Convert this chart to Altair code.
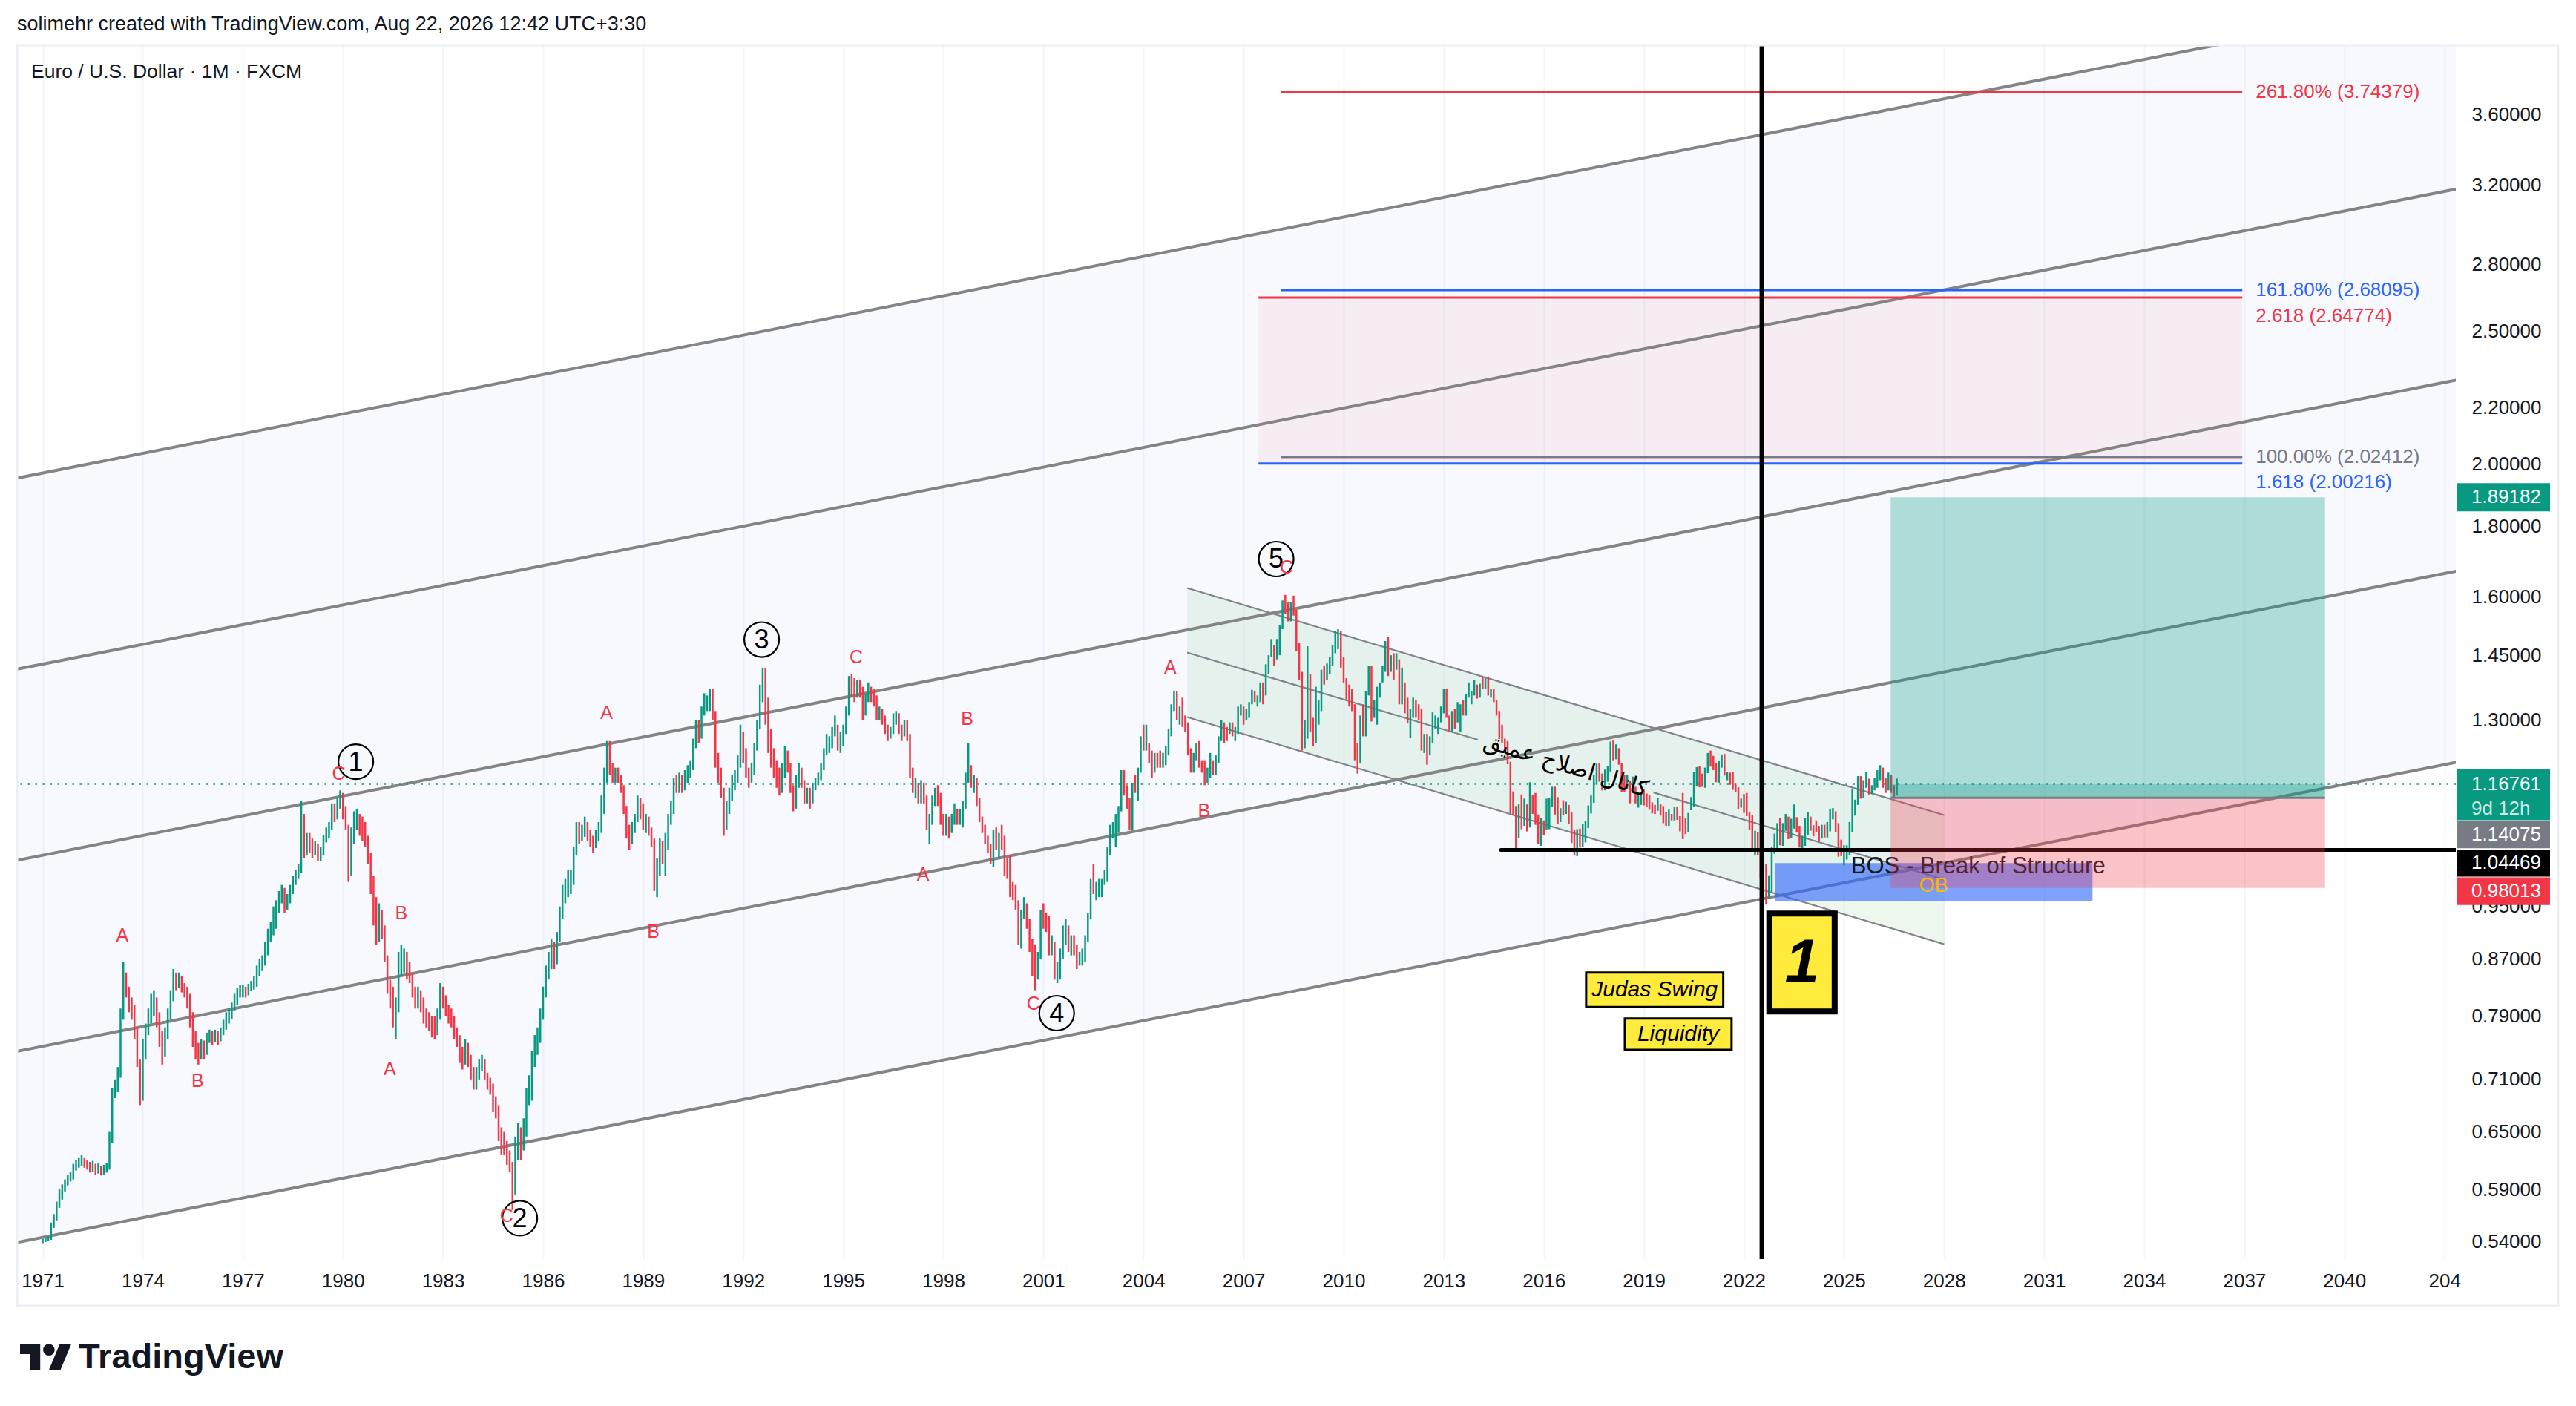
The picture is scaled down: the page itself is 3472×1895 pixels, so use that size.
import altair as alt
import pandas as pd

# ---------------- monthly EUR/USD bars (Jan 1971 .. Aug 2026) ----------------
closes = [
    0.541, 0.542, 0.543, 0.555, 0.562, 0.575, 0.583, 0.590, 0.596, 0.600, 0.603, 0.612,  # 1971
    0.615, 0.618, 0.620, 0.617, 0.615, 0.612, 0.614, 0.610, 0.612, 0.609, 0.611, 0.613,  # 1972
    0.640, 0.695, 0.700, 0.715, 0.790, 0.840, 0.825, 0.810, 0.800, 0.770, 0.730, 0.700,  # 1973
    0.745, 0.770, 0.790, 0.800, 0.810, 0.790, 0.760, 0.745, 0.765, 0.790, 0.815, 0.840,  # 1974
    0.835, 0.840, 0.830, 0.825, 0.815, 0.790, 0.760, 0.745, 0.740, 0.750, 0.745, 0.760,  # 1975
    0.765, 0.760, 0.765, 0.760, 0.768, 0.775, 0.785, 0.790, 0.800, 0.810, 0.818, 0.825,  # 1976
    0.825, 0.822, 0.828, 0.830, 0.835, 0.850, 0.860, 0.865, 0.880, 0.900, 0.915, 0.935,  # 1977
    0.945, 0.960, 0.975, 0.950, 0.960, 0.975, 0.990, 1.000, 1.010, 1.110, 1.050, 1.060,  # 1978
    1.055, 1.045, 1.050, 1.035, 1.040, 1.065, 1.075, 1.085, 1.120, 1.110, 1.130, 1.145,  # 1979
    1.120, 1.090, 1.010, 1.060, 1.090, 1.105, 1.100, 1.080, 1.070, 1.030, 0.990, 0.960,  # 1980
    0.910, 0.925, 0.915, 0.870, 0.830, 0.820, 0.790, 0.800, 0.860, 0.870, 0.875, 0.860,  # 1981
    0.845, 0.825, 0.810, 0.815, 0.805, 0.790, 0.785, 0.780, 0.775, 0.770, 0.790, 0.820,  # 1982
    0.810, 0.800, 0.790, 0.785, 0.770, 0.760, 0.740, 0.735, 0.745, 0.735, 0.720, 0.705,  # 1983
    0.715, 0.725, 0.730, 0.715, 0.705, 0.700, 0.680, 0.675, 0.650, 0.640, 0.635, 0.625,  # 1984
    0.615, 0.590, 0.630, 0.640, 0.635, 0.650, 0.690, 0.700, 0.730, 0.750, 0.765, 0.790,  # 1985
    0.820, 0.850, 0.860, 0.880, 0.870, 0.900, 0.940, 0.965, 0.975, 0.985, 0.990, 1.040,  # 1986
    1.080, 1.070, 1.075, 1.090, 1.070, 1.060, 1.055, 1.065, 1.080, 1.120, 1.180, 1.230,  # 1987
    1.200, 1.180, 1.190, 1.180, 1.160, 1.120, 1.080, 1.070, 1.080, 1.100, 1.130, 1.120,  # 1988
    1.090, 1.095, 1.080, 1.060, 1.000, 1.010, 1.050, 1.040, 1.060, 1.100, 1.120, 1.170,  # 1989
    1.165, 1.175, 1.165, 1.180, 1.190, 1.200, 1.250, 1.280, 1.270, 1.320, 1.340, 1.340,  # 1990
    1.350, 1.310, 1.220, 1.190, 1.150, 1.100, 1.120, 1.140, 1.170, 1.180, 1.210, 1.270,  # 1991
    1.230, 1.190, 1.180, 1.190, 1.240, 1.290, 1.360, 1.390, 1.330, 1.270, 1.220, 1.210,  # 1992
    1.170, 1.160, 1.190, 1.220, 1.200, 1.160, 1.130, 1.170, 1.190, 1.170, 1.140, 1.150,  # 1993
    1.135, 1.160, 1.170, 1.180, 1.200, 1.230, 1.250, 1.250, 1.270, 1.280, 1.250, 1.260,  # 1994
    1.280, 1.320, 1.380, 1.370, 1.360, 1.380, 1.370, 1.320, 1.350, 1.370, 1.360, 1.350,  # 1995
    1.310, 1.320, 1.300, 1.280, 1.270, 1.275, 1.300, 1.310, 1.280, 1.270, 1.290, 1.270,  # 1996
    1.190, 1.160, 1.160, 1.140, 1.160, 1.140, 1.090, 1.100, 1.140, 1.150, 1.140, 1.100,  # 1997
    1.080, 1.095, 1.080, 1.095, 1.110, 1.100, 1.105, 1.120, 1.180, 1.200, 1.170, 1.175,  # 1998
    1.130, 1.100, 1.080, 1.060, 1.045, 1.035, 1.070, 1.060, 1.070, 1.060, 1.010, 1.005,  # 1999
    0.970, 0.965, 0.955, 0.910, 0.935, 0.955, 0.925, 0.890, 0.885, 0.850, 0.875, 0.940,  # 2000
    0.935, 0.920, 0.880, 0.890, 0.845, 0.850, 0.875, 0.910, 0.910, 0.885, 0.890, 0.885,  # 2001
    0.860, 0.870, 0.870, 0.900, 0.935, 0.990, 0.975, 0.980, 0.985, 0.990, 0.995, 1.050,  # 2002
    1.075, 1.080, 1.090, 1.120, 1.180, 1.150, 1.125, 1.100, 1.165, 1.160, 1.195, 1.260,  # 2003
    1.245, 1.245, 1.230, 1.200, 1.220, 1.215, 1.205, 1.215, 1.240, 1.275, 1.330, 1.360,  # 2004
    1.305, 1.325, 1.295, 1.290, 1.230, 1.210, 1.210, 1.230, 1.205, 1.200, 1.180, 1.185,  # 2005
    1.210, 1.190, 1.215, 1.260, 1.290, 1.280, 1.275, 1.280, 1.270, 1.275, 1.320, 1.320,  # 2006
    1.300, 1.320, 1.335, 1.365, 1.345, 1.350, 1.370, 1.365, 1.425, 1.450, 1.465, 1.460,  # 2007
    1.485, 1.520, 1.580, 1.560, 1.555, 1.575, 1.560, 1.465, 1.410, 1.270, 1.270, 1.400,  # 2008
    1.280, 1.270, 1.325, 1.325, 1.415, 1.405, 1.410, 1.430, 1.465, 1.470, 1.500, 1.430,  # 2009
    1.385, 1.360, 1.350, 1.330, 1.230, 1.225, 1.305, 1.270, 1.365, 1.395, 1.300, 1.340,  # 2010
    1.370, 1.380, 1.420, 1.480, 1.440, 1.450, 1.440, 1.440, 1.340, 1.385, 1.345, 1.295,  # 2011
    1.310, 1.345, 1.335, 1.325, 1.235, 1.265, 1.230, 1.255, 1.285, 1.295, 1.300, 1.320,  # 2012
    1.360, 1.305, 1.280, 1.315, 1.300, 1.300, 1.330, 1.320, 1.355, 1.360, 1.360, 1.375,  # 2013
    1.350, 1.380, 1.375, 1.385, 1.360, 1.370, 1.340, 1.315, 1.265, 1.255, 1.245, 1.210,  # 2014
    1.130, 1.120, 1.075, 1.120, 1.100, 1.115, 1.100, 1.120, 1.115, 1.100, 1.060, 1.085,  # 2015
    1.083, 1.093, 1.138, 1.145, 1.113, 1.110, 1.117, 1.115, 1.124, 1.098, 1.059, 1.052,  # 2016
    1.080, 1.058, 1.065, 1.090, 1.124, 1.142, 1.184, 1.190, 1.181, 1.164, 1.190, 1.200,  # 2017
    1.242, 1.219, 1.232, 1.208, 1.169, 1.168, 1.169, 1.160, 1.161, 1.131, 1.132, 1.146,  # 2018
    1.145, 1.137, 1.122, 1.121, 1.117, 1.137, 1.108, 1.099, 1.090, 1.115, 1.101, 1.121,  # 2019
    1.109, 1.103, 1.102, 1.095, 1.110, 1.124, 1.178, 1.194, 1.172, 1.165, 1.192, 1.222,  # 2020
    1.213, 1.207, 1.173, 1.202, 1.223, 1.186, 1.187, 1.181, 1.158, 1.156, 1.134, 1.137,  # 2021
    1.123, 1.122, 1.107, 1.054, 1.073, 1.048, 1.022, 1.005, 0.980, 0.988, 1.040, 1.070,  # 2022
    1.086, 1.058, 1.084, 1.102, 1.069, 1.091, 1.100, 1.084, 1.057, 1.057, 1.089, 1.104,  # 2023
    1.082, 1.081, 1.079, 1.067, 1.085, 1.071, 1.082, 1.105, 1.113, 1.088, 1.058, 1.035,  # 2024
    1.036, 1.040, 1.082, 1.133, 1.134, 1.179, 1.142, 1.168, 1.173, 1.154, 1.160, 1.175,  # 2025
    1.185, 1.195, 1.170, 1.160, 1.180, 1.155, 1.150, 1.168,                              # 2026
]
highs = [
    0.543, 0.544, 0.545, 0.558, 0.566, 0.578, 0.590, 0.595, 0.600, 0.605, 0.608, 0.616,
    0.620, 0.622, 0.625, 0.622, 0.620, 0.618, 0.619, 0.616, 0.617, 0.614, 0.615, 0.617,
    0.650, 0.700, 0.710, 0.725, 0.800, 0.865, 0.850, 0.830, 0.815, 0.805, 0.775, 0.735,
    0.760, 0.780, 0.800, 0.820, 0.825, 0.815, 0.795, 0.770, 0.775, 0.800, 0.825, 0.855,
    0.850, 0.850, 0.845, 0.835, 0.830, 0.820, 0.795, 0.770, 0.755, 0.760, 0.758, 0.768,
    0.772, 0.770, 0.772, 0.770, 0.775, 0.785, 0.795, 0.800, 0.808, 0.820, 0.828, 0.832,
    0.832, 0.830, 0.834, 0.838, 0.845, 0.860, 0.870, 0.875, 0.895, 0.915, 0.925, 0.950,
    0.960, 0.975, 0.985, 0.980, 0.970, 0.985, 1.000, 1.010, 1.020, 1.135, 1.110, 1.075,
    1.075, 1.065, 1.060, 1.055, 1.050, 1.072, 1.085, 1.095, 1.130, 1.130, 1.140, 1.155,
    1.150, 1.125, 1.090, 1.085, 1.115, 1.120, 1.110, 1.105, 1.095, 1.070, 1.040, 1.000,
    0.965, 0.955, 0.945, 0.920, 0.875, 0.840, 0.830, 0.815, 0.880, 0.890, 0.885, 0.880,
    0.865, 0.850, 0.830, 0.830, 0.825, 0.815, 0.800, 0.795, 0.790, 0.790, 0.800, 0.835,
    0.830, 0.818, 0.805, 0.800, 0.790, 0.775, 0.765, 0.750, 0.760, 0.755, 0.740, 0.725,
    0.725, 0.735, 0.740, 0.735, 0.718, 0.712, 0.705, 0.690, 0.680, 0.655, 0.650, 0.640,
    0.630, 0.618, 0.645, 0.660, 0.655, 0.665, 0.700, 0.715, 0.745, 0.765, 0.775, 0.800,
    0.830, 0.860, 0.880, 0.900, 0.895, 0.910, 0.950, 0.985, 0.995, 1.010, 1.010, 1.050,
    1.095, 1.095, 1.090, 1.105, 1.095, 1.080, 1.070, 1.080, 1.095, 1.145, 1.200, 1.255,
    1.255, 1.210, 1.200, 1.200, 1.185, 1.165, 1.125, 1.090, 1.095, 1.110, 1.145, 1.140,
    1.130, 1.110, 1.105, 1.085, 1.065, 1.030, 1.065, 1.060, 1.075, 1.110, 1.135, 1.180,
    1.185, 1.190, 1.185, 1.195, 1.205, 1.215, 1.260, 1.300, 1.300, 1.330, 1.360, 1.355,
    1.370, 1.370, 1.320, 1.230, 1.200, 1.160, 1.135, 1.160, 1.185, 1.195, 1.225, 1.290,
    1.275, 1.240, 1.200, 1.210, 1.250, 1.300, 1.380, 1.420, 1.420, 1.350, 1.280, 1.240,
    1.215, 1.200, 1.210, 1.245, 1.235, 1.210, 1.165, 1.185, 1.210, 1.200, 1.175, 1.160,
    1.160, 1.170, 1.180, 1.190, 1.210, 1.240, 1.270, 1.265, 1.285, 1.310, 1.290, 1.275,
    1.290, 1.330, 1.400, 1.405, 1.395, 1.390, 1.390, 1.375, 1.360, 1.385, 1.375, 1.370,
    1.355, 1.330, 1.325, 1.310, 1.290, 1.285, 1.315, 1.320, 1.315, 1.290, 1.300, 1.300,
    1.270, 1.200, 1.180, 1.170, 1.175, 1.170, 1.145, 1.110, 1.145, 1.160, 1.165, 1.150,
    1.110, 1.110, 1.105, 1.110, 1.130, 1.120, 1.120, 1.135, 1.190, 1.250, 1.205, 1.185,
    1.180, 1.140, 1.105, 1.090, 1.070, 1.055, 1.080, 1.085, 1.075, 1.090, 1.070, 1.030,
    1.035, 0.990, 0.985, 0.960, 0.945, 0.965, 0.955, 0.930, 0.900, 0.890, 0.880, 0.945,
    0.955, 0.940, 0.935, 0.905, 0.895, 0.865, 0.885, 0.920, 0.930, 0.920, 0.905, 0.905,
    0.890, 0.880, 0.885, 0.905, 0.940, 0.995, 1.020, 0.990, 0.995, 0.995, 1.010, 1.050,
    1.090, 1.095, 1.110, 1.125, 1.195, 1.195, 1.165, 1.140, 1.170, 1.185, 1.200, 1.265,
    1.290, 1.290, 1.250, 1.235, 1.230, 1.230, 1.235, 1.230, 1.245, 1.280, 1.335, 1.366,
    1.365, 1.330, 1.350, 1.310, 1.295, 1.240, 1.230, 1.250, 1.255, 1.215, 1.215, 1.200,
    1.230, 1.215, 1.225, 1.265, 1.300, 1.295, 1.285, 1.295, 1.295, 1.285, 1.330, 1.335,
    1.330, 1.325, 1.340, 1.368, 1.365, 1.355, 1.385, 1.385, 1.428, 1.450, 1.490, 1.475,
    1.490, 1.525, 1.590, 1.605, 1.585, 1.585, 1.603, 1.565, 1.480, 1.410, 1.300, 1.472,
    1.405, 1.305, 1.375, 1.345, 1.415, 1.425, 1.430, 1.445, 1.475, 1.510, 1.515, 1.510,
    1.445, 1.395, 1.380, 1.370, 1.335, 1.250, 1.310, 1.335, 1.365, 1.425, 1.425, 1.345,
    1.375, 1.385, 1.425, 1.485, 1.495, 1.450, 1.455, 1.455, 1.440, 1.420, 1.385, 1.350,
    1.325, 1.350, 1.345, 1.335, 1.325, 1.270, 1.270, 1.265, 1.317, 1.310, 1.305, 1.330,
    1.370, 1.370, 1.310, 1.320, 1.325, 1.340, 1.335, 1.345, 1.358, 1.385, 1.365, 1.390,
    1.380, 1.382, 1.397, 1.395, 1.399, 1.370, 1.370, 1.345, 1.320, 1.290, 1.260, 1.255,
    1.212, 1.153, 1.125, 1.128, 1.147, 1.139, 1.128, 1.171, 1.146, 1.150, 1.109, 1.103,
    1.098, 1.139, 1.140, 1.162, 1.162, 1.142, 1.121, 1.136, 1.133, 1.127, 1.114, 1.080,
    1.082, 1.083, 1.091, 1.097, 1.126, 1.145, 1.185, 1.208, 1.209, 1.188, 1.196, 1.203,
    1.254, 1.256, 1.248, 1.240, 1.210, 1.185, 1.185, 1.173, 1.182, 1.162, 1.150, 1.148,
    1.157, 1.149, 1.145, 1.132, 1.127, 1.141, 1.128, 1.125, 1.114, 1.118, 1.110, 1.124,
    1.124, 1.106, 1.150, 1.102, 1.112, 1.142, 1.191, 1.201, 1.203, 1.188, 1.200, 1.230,
    1.235, 1.224, 1.210, 1.214, 1.227, 1.228, 1.191, 1.190, 1.191, 1.169, 1.161, 1.139,
    1.148, 1.150, 1.114, 1.108, 1.079, 1.077, 1.048, 1.037, 1.020, 1.001, 1.050, 1.074,
    1.093, 1.103, 1.093, 1.110, 1.105, 1.101, 1.128, 1.104, 1.088, 1.070, 1.102, 1.114,
    1.105, 1.089, 1.098, 1.088, 1.090, 1.090, 1.095, 1.120, 1.121, 1.115, 1.093, 1.063,
    1.053, 1.053, 1.095, 1.157, 1.137, 1.183, 1.183, 1.175, 1.192, 1.178, 1.165, 1.180,
    1.195, 1.205, 1.200, 1.180, 1.190, 1.185, 1.165, 1.178,
]
lows = [
    0.539, 0.540, 0.541, 0.542, 0.553, 0.560, 0.572, 0.580, 0.588, 0.594, 0.598, 0.600,
    0.609, 0.612, 0.614, 0.612, 0.610, 0.607, 0.608, 0.605, 0.606, 0.604, 0.605, 0.607,
    0.610, 0.638, 0.688, 0.695, 0.712, 0.785, 0.815, 0.795, 0.785, 0.760, 0.725, 0.680,
    0.685, 0.735, 0.765, 0.780, 0.790, 0.775, 0.750, 0.728, 0.738, 0.760, 0.785, 0.810,
    0.825, 0.828, 0.822, 0.815, 0.800, 0.775, 0.750, 0.735, 0.728, 0.735, 0.735, 0.740,
    0.755, 0.752, 0.756, 0.752, 0.757, 0.765, 0.772, 0.780, 0.786, 0.797, 0.805, 0.815,
    0.815, 0.815, 0.818, 0.824, 0.826, 0.830, 0.845, 0.852, 0.860, 0.875, 0.895, 0.905,
    0.915, 0.940, 0.955, 0.940, 0.945, 0.955, 0.970, 0.985, 0.995, 1.005, 1.030, 1.035,
    1.040, 1.030, 1.035, 1.025, 1.025, 1.035, 1.058, 1.065, 1.080, 1.095, 1.100, 1.120,
    1.100, 1.080, 0.990, 1.000, 1.055, 1.080, 1.070, 1.060, 1.050, 1.020, 0.970, 0.920,
    0.890, 0.895, 0.900, 0.865, 0.820, 0.800, 0.775, 0.760, 0.795, 0.845, 0.850, 0.840,
    0.835, 0.815, 0.800, 0.800, 0.795, 0.780, 0.775, 0.770, 0.762, 0.760, 0.765, 0.785,
    0.800, 0.790, 0.780, 0.775, 0.760, 0.750, 0.730, 0.722, 0.728, 0.725, 0.710, 0.698,
    0.698, 0.710, 0.720, 0.710, 0.698, 0.692, 0.672, 0.665, 0.640, 0.625, 0.625, 0.615,
    0.608, 0.570, 0.585, 0.620, 0.620, 0.630, 0.645, 0.680, 0.685, 0.725, 0.740, 0.755,
    0.785, 0.815, 0.840, 0.855, 0.855, 0.862, 0.895, 0.930, 0.955, 0.965, 0.970, 0.985,
    1.035, 1.055, 1.060, 1.068, 1.060, 1.050, 1.040, 1.048, 1.060, 1.075, 1.110, 1.170,
    1.185, 1.170, 1.170, 1.170, 1.150, 1.110, 1.065, 1.045, 1.055, 1.075, 1.095, 1.100,
    1.080, 1.075, 1.070, 1.050, 0.975, 0.965, 1.000, 1.020, 1.000, 1.045, 1.090, 1.110,
    1.150, 1.150, 1.150, 1.155, 1.170, 1.180, 1.195, 1.240, 1.250, 1.260, 1.310, 1.320,
    1.320, 1.300, 1.200, 1.170, 1.140, 1.070, 1.080, 1.110, 1.135, 1.155, 1.170, 1.200,
    1.210, 1.180, 1.160, 1.170, 1.185, 1.235, 1.280, 1.340, 1.290, 1.230, 1.200, 1.180,
    1.160, 1.145, 1.150, 1.180, 1.190, 1.150, 1.115, 1.120, 1.160, 1.160, 1.130, 1.130,
    1.120, 1.130, 1.155, 1.165, 1.175, 1.195, 1.225, 1.230, 1.240, 1.265, 1.235, 1.230,
    1.245, 1.270, 1.310, 1.350, 1.340, 1.350, 1.350, 1.300, 1.310, 1.340, 1.340, 1.330,
    1.300, 1.300, 1.290, 1.270, 1.255, 1.260, 1.270, 1.290, 1.270, 1.255, 1.265, 1.255,
    1.180, 1.150, 1.140, 1.130, 1.130, 1.130, 1.080, 1.055, 1.090, 1.125, 1.125, 1.090,
    1.070, 1.070, 1.065, 1.075, 1.090, 1.090, 1.090, 1.085, 1.120, 1.170, 1.160, 1.150,
    1.125, 1.095, 1.075, 1.055, 1.040, 1.020, 1.015, 1.045, 1.030, 1.045, 1.000, 0.995,
    0.965, 0.960, 0.945, 0.890, 0.885, 0.930, 0.915, 0.880, 0.845, 0.825, 0.840, 0.870,
    0.915, 0.910, 0.875, 0.875, 0.840, 0.835, 0.840, 0.870, 0.890, 0.880, 0.875, 0.875,
    0.855, 0.860, 0.860, 0.865, 0.895, 0.930, 0.970, 0.960, 0.965, 0.965, 0.985, 0.990,
    1.035, 1.065, 1.050, 1.075, 1.115, 1.145, 1.120, 1.080, 1.080, 1.150, 1.135, 1.190,
    1.235, 1.235, 1.210, 1.180, 1.190, 1.200, 1.200, 1.200, 1.205, 1.225, 1.265, 1.320,
    1.300, 1.290, 1.285, 1.275, 1.225, 1.190, 1.190, 1.215, 1.200, 1.190, 1.165, 1.170,
    1.180, 1.185, 1.185, 1.210, 1.255, 1.250, 1.255, 1.270, 1.265, 1.255, 1.270, 1.310,
    1.290, 1.300, 1.305, 1.335, 1.340, 1.330, 1.340, 1.335, 1.355, 1.405, 1.445, 1.425,
    1.440, 1.450, 1.515, 1.555, 1.535, 1.535, 1.550, 1.460, 1.390, 1.235, 1.240, 1.260,
    1.275, 1.245, 1.250, 1.290, 1.320, 1.380, 1.390, 1.405, 1.425, 1.455, 1.465, 1.420,
    1.385, 1.345, 1.330, 1.320, 1.215, 1.188, 1.210, 1.265, 1.265, 1.355, 1.297, 1.305,
    1.290, 1.350, 1.385, 1.410, 1.400, 1.410, 1.390, 1.415, 1.335, 1.335, 1.315, 1.293,
    1.262, 1.305, 1.305, 1.300, 1.235, 1.230, 1.206, 1.225, 1.250, 1.280, 1.270, 1.295,
    1.315, 1.305, 1.275, 1.275, 1.280, 1.295, 1.275, 1.310, 1.310, 1.350, 1.335, 1.355,
    1.348, 1.350, 1.370, 1.370, 1.355, 1.350, 1.340, 1.310, 1.259, 1.250, 1.235, 1.207,
    1.111, 1.109, 1.046, 1.066, 1.082, 1.088, 1.078, 1.085, 1.110, 1.090, 1.056, 1.052,
    1.071, 1.081, 1.082, 1.124, 1.109, 1.091, 1.095, 1.108, 1.110, 1.092, 1.057, 1.035,
    1.034, 1.049, 1.050, 1.058, 1.084, 1.111, 1.131, 1.166, 1.172, 1.155, 1.155, 1.172,
    1.192, 1.215, 1.217, 1.206, 1.151, 1.151, 1.157, 1.130, 1.152, 1.130, 1.122, 1.127,
    1.126, 1.123, 1.118, 1.111, 1.110, 1.116, 1.107, 1.093, 1.088, 1.088, 1.098, 1.098,
    1.099, 1.078, 1.064, 1.073, 1.077, 1.117, 1.124, 1.163, 1.161, 1.162, 1.160, 1.189,
    1.202, 1.195, 1.171, 1.170, 1.200, 1.184, 1.175, 1.166, 1.156, 1.152, 1.119, 1.122,
    1.112, 1.106, 1.081, 1.047, 1.035, 1.036, 0.995, 0.990, 0.953, 0.963, 0.973, 1.038,
    1.048, 1.053, 1.052, 1.079, 1.064, 1.066, 1.083, 1.077, 1.049, 1.045, 1.052, 1.072,
    1.079, 1.069, 1.076, 1.060, 1.065, 1.067, 1.067, 1.078, 1.100, 1.076, 1.033, 1.034,
    1.018, 1.028, 1.036, 1.076, 1.107, 1.127, 1.139, 1.140, 1.160, 1.147, 1.148, 1.155,
    1.160, 1.175, 1.160, 1.150, 1.155, 1.150, 1.140, 1.145,
]
FIRST_YEAR = 1971
FIRST_OPEN = 0.540

# ---------------- drawings ----------------
chan_t = [1970.0, 2045.0]
chan_left = [0.53828, 0.74253, 1.0242, 1.4128, 1.9487]
chan_right = [1.2331, 1.7010, 2.3462, 3.2363, 4.464]

corr_t = [2005.308, 2028.003]
corr_top = [1.6238, 1.1080]
corr_bot = [1.3065, 0.8915]
corr_mid_t1 = [2005.308, 2019.29]
corr_mid_t2 = [2014.025, 2028.003]
corr_mid_p1 = [1.4565, 1.1509]
corr_mid_p2 = [1.2577, 0.99386]

fib_prices = [3.74379, 2.68095, 2.02412, 2.64774, 2.00216]
fib_texts = ["261.80% (3.74379)", "161.80% (2.68095)", "100.00% (2.02412)",
             "2.618 (2.64774)", "1.618 (2.00216)"]
fib_colors = ["#f23645", "#2962ff", "#787b86", "#f23645", "#2962ff"]
fib_start = [2008.12, 2008.12, 2008.12, 2007.446, 2007.446]
fib_below = [False, False, False, True, True]
FIB_END = 2036.94
FIB_LABEL_T = 2037.34

ENTRY, TARGET, STOP, LAST = 1.14075, 1.89182, 0.98013, 1.16761
POS_T = [2026.40, 2039.42]
BOS_PRICE, BOS_T = 1.04469, 2014.715
VLINE_T = 2022.53
OB_T = [2022.93, 2032.45]
OB_P = [0.958, 1.022]

wave_text = ["1", "2", "3", "4", "5"]
wave_t = [1980.387, 1985.303, 1992.553, 2001.398, 2007.978]
wave_p = [1.2122, 0.5621, 1.4887, 0.7938, 1.7048]

abc_text = ["A", "B", "C", "B", "A", "C", "A", "B", "C", "A", "B", "C", "A", "B", "C"]
abc_t = [1973.384, 1975.644, 1979.875, 1981.747, 1981.407, 1984.904, 1987.903, 1989.307,
         1995.389, 1997.389, 1998.714, 2000.699, 2004.802, 2005.816, 2008.289]
abc_p = [0.9047, 0.7081, 1.1870, 0.9393, 0.7221, 0.5643, 1.3148, 0.9107,
         1.4444, 1.0021, 1.3018, 0.8064, 1.4191, 1.1160, 1.6814]

box_text = ["Judas Swing", "Liquidity", "1"]
box_t1 = [2017.27, 2018.43, 2022.76]
box_t2 = [2021.38, 2021.63, 2024.72]
box_p1 = [0.802, 0.7462, 0.7961]
box_p2 = [0.850, 0.7866, 0.9388]

year_ticks = list(range(1971, 2044, 3))
price_ticks = [0.54, 0.59, 0.65, 0.71, 0.79, 0.87, 0.95, 1.30, 1.45, 1.60, 1.80,
               2.00, 2.20, 2.50, 2.80, 3.20, 3.60]

# ---------------- frame ----------------
W, H = 3287, 1636
xs = alt.Scale(domain=[1970.2312, 2043.341], nice=False, zero=False)
ys = alt.Scale(type="log", domain=[0.5247, 4.0484], nice=False)
FONT = "Liberation Sans"
INK = "#131722"
GREEN, RED, GRAY = "#089981", "#f23645", "#787b86"

x_axis = alt.Axis(values=year_ticks, title=None, grid=True, gridColor="#f3f5f9", gridWidth=2,
                  domain=False, ticks=False, labelFont=FONT, labelFontSize=26, labelColor=INK,
                  labelPadding=16, labelBound=False, labelFlush=False, labelOverlap=False,
                  labelExpr="datum.value >= 2043 ? '204' : format(datum.value, 'd')")
y_axis = alt.Axis(orient="right", values=price_ticks, format=".5f", title=None, grid=False,
                  domain=False, ticks=False, labelFont=FONT, labelFontSize=26, labelColor=INK,
                  labelPadding=21, labelOverlap=False, labelBound=False)


def xq(f):
    return alt.X(f, type="quantitative", scale=xs, axis=x_axis, title=None)


def yq(f):
    return alt.Y(f, type="quantitative", scale=ys, axis=y_axis, title=None)


n = min(len(closes), len(highs), len(lows))
opens = [FIRST_OPEN] + closes[: n - 1]
bars = pd.DataFrame({
    "t": [FIRST_YEAR + i / 12 for i in range(n)],
    "o": opens, "h": highs[:n], "l": lows[:n], "c": closes[:n],
})
bars["dir"] = ["up" if c >= o else "down" for o, c in zip(bars["o"], bars["c"])]
bar_color = alt.Color("dir:N", scale=alt.Scale(domain=["up", "down"], range=[GREEN, RED]), legend=None)

layers = []

# big parallel channel fill + lines
chan_fill = pd.DataFrame({"t": chan_t, "lo": [chan_left[0], chan_right[0]],
                          "hi": [chan_left[-1], chan_right[-1]]})
layers.append(alt.Chart(chan_fill).mark_area(color="#2962ff", opacity=0.035, clip=True).encode(
    x=xq("t"), y=yq("lo"), y2="hi"))

# correction channel fill
corr_fill = pd.DataFrame({"t": corr_t, "lo": corr_bot, "hi": corr_top})
layers.append(alt.Chart(corr_fill).mark_area(color="#4caf50", opacity=0.1).encode(
    x=xq("t"), y=yq("lo"), y2="hi"))

# fib fill
fib_fill = pd.DataFrame({"t1": [fib_start[3]], "t2": [FIB_END], "p1": [fib_prices[4]], "p2": [fib_prices[3]]})
layers.append(alt.Chart(fib_fill).mark_rect(color=RED, opacity=0.06).encode(
    x=xq("t1"), x2="t2", y=yq("p1"), y2="p2"))

chan_lines = pd.DataFrame({"t1": [chan_t[0]] * 5, "t2": [chan_t[1]] * 5, "p1": chan_left, "p2": chan_right})
layers.append(alt.Chart(chan_lines).mark_rule(color="#848484", strokeWidth=4, clip=True).encode(
    x=xq("t1"), x2="t2", y=yq("p1"), y2="p2"))

corr_lines = pd.DataFrame({
    "t1": [corr_t[0], corr_t[0]] + corr_mid_t1,
    "t2": [corr_t[1], corr_t[1]] + corr_mid_t2,
    "p1": [corr_top[0], corr_bot[0]] + corr_mid_p1,
    "p2": [corr_top[1], corr_bot[1]] + corr_mid_p2,
})
layers.append(alt.Chart(corr_lines).mark_rule(color="#80838c", strokeWidth=2.2).encode(
    x=xq("t1"), x2="t2", y=yq("p1"), y2="p2"))

# fib lines
fib_df = pd.DataFrame({"t1": fib_start, "t2": [FIB_END] * 5, "p": fib_prices, "col": fib_colors,
                       "txt": fib_texts, "below": fib_below, "tl": [FIB_LABEL_T] * 5})
layers.append(alt.Chart(fib_df).mark_rule(strokeWidth=3).encode(
    x=xq("t1"), x2="t2", y=yq("p"), color=alt.Color("col:N", scale=None)))
layers.append(alt.Chart(fib_df[~fib_df["below"]]).mark_text(
    align="left", baseline="middle", font=FONT, fontSize=26).encode(
    x=xq("tl"), y=yq("p"), text="txt:N", color=alt.Color("col:N", scale=None)))
layers.append(alt.Chart(fib_df[fib_df["below"]]).mark_text(
    align="left", baseline="middle", font=FONT, fontSize=26, dy=25).encode(
    x=xq("tl"), y=yq("p"), text="txt:N", color=alt.Color("col:N", scale=None)))

# current price dotted line
last_df = pd.DataFrame({"p": [LAST]})
layers.append(alt.Chart(last_df).mark_rule(color=GREEN, strokeWidth=2.5, strokeDash=[2.5, 7.5]).encode(
    y=yq("p")))

# order block
ob_df = pd.DataFrame({"t1": [OB_T[0]], "t2": [OB_T[1]], "p1": [OB_P[0]], "p2": [OB_P[1]]})
layers.append(alt.Chart(ob_df).mark_rect(color="#2962ff", opacity=0.6).encode(
    x=xq("t1"), x2="t2", y=yq("p1"), y2="p2"))

bos_txt = pd.DataFrame({"t": [2025.21], "p": [1.0165], "s": ["BOS - Break of Structure"]})
layers.append(alt.Chart(bos_txt).mark_text(align="left", baseline="middle", font=FONT, fontSize=31,
                                           color=INK).encode(x=xq("t"), y=yq("p"), text="s:N"))

# bars (high-low)
layers.append(alt.Chart(bars).mark_rule(strokeWidth=2.5).encode(
    x=xq("t"), y=yq("l"), y2="h:Q", color=bar_color))

# BOS line and vertical line
bos_df = pd.DataFrame({"t1": [BOS_T], "t2": [2045.0], "p": [BOS_PRICE]})
layers.append(alt.Chart(bos_df).mark_rule(color="#000000", strokeWidth=5, strokeCap="round", clip=True).encode(
    x=xq("t1"), x2="t2", y=yq("p")))
vl_df = pd.DataFrame({"t": [VLINE_T]})
layers.append(alt.Chart(vl_df).mark_rule(color="#000000", strokeWidth=5.5).encode(x=xq("t")))

# long position
pos_df = pd.DataFrame({"t1": [POS_T[0]] * 3, "t2": [POS_T[1]] * 3,
                       "p1": [ENTRY, STOP, ENTRY], "p2": [TARGET, ENTRY, LAST],
                       "col": [GREEN, RED, GREEN], "op": [0.3, 0.3, 0.28]})
layers.append(alt.Chart(pos_df).mark_rect().encode(
    x=xq("t1"), x2="t2", y=yq("p1"), y2="p2", color=alt.Color("col:N", scale=None),
    opacity=alt.Opacity("op:Q", scale=None)))
entry_df = pd.DataFrame({"t1": [POS_T[0]], "t2": [POS_T[1]], "p": [ENTRY]})
layers.append(alt.Chart(entry_df).mark_rule(color=GRAY, strokeWidth=3).encode(
    x=xq("t1"), x2="t2", y=yq("p")))

ob_txt = pd.DataFrame({"t": [(OB_T[0] + OB_T[1]) / 2], "p": [0.984], "s": ["OB"]})
layers.append(alt.Chart(ob_txt).mark_text(align="center", baseline="middle", font=FONT, fontSize=27,
                                          color="#f5bd00").encode(x=xq("t"), y=yq("p"), text="s:N"))

# elliott wave labels
wave_df = pd.DataFrame({"t": wave_t, "p": wave_p, "s": wave_text})
layers.append(alt.Chart(wave_df).mark_point(shape="circle", size=2209, filled=False, color="#000000",
                                            strokeWidth=2.2, opacity=1).encode(x=xq("t"), y=yq("p")))
layers.append(alt.Chart(wave_df).mark_text(align="center", baseline="middle", font=FONT, fontSize=36,
                                           color="#000000", dy=1).encode(x=xq("t"), y=yq("p"), text="s:N"))
abc_df = pd.DataFrame({"t": abc_t, "p": abc_p, "s": abc_text})
layers.append(alt.Chart(abc_df).mark_text(align="center", baseline="middle", font=FONT, fontSize=25,
                                          color=RED).encode(x=xq("t"), y=yq("p"), text="s:N"))

# persian channel label
fa_df = pd.DataFrame({"t": [2016.66], "p": [1.204], "s": ["کانال اصلاح عمیق"]})
layers.append(alt.Chart(fa_df).mark_text(align="center", baseline="middle", font="DejaVu Sans", fontSize=31,
                                         angle=17, color="#000000").encode(x=xq("t"), y=yq("p"), text="s:N"))

# yellow boxes
box_df = pd.DataFrame({"t1": box_t1, "t2": box_t2, "p1": box_p1, "p2": box_p2, "s": box_text,
                       "tc": [(a + b) / 2 for a, b in zip(box_t1, box_t2)],
                       "pc": [(a * b) ** 0.5 for a, b in zip(box_p1, box_p2)]})
layers.append(alt.Chart(box_df.iloc[:2]).mark_rect(fill="#ffeb3b", stroke="#000000", strokeWidth=3).encode(
    x=xq("t1"), x2="t2", y=yq("p1"), y2="p2"))
layers.append(alt.Chart(box_df.iloc[2:]).mark_rect(fill="#ffeb3b", stroke="#000000", strokeWidth=8).encode(
    x=xq("t1"), x2="t2", y=yq("p1"), y2="p2"))
layers.append(alt.Chart(box_df.iloc[:2]).mark_text(align="center", baseline="middle", font=FONT, fontSize=30,
                                                   fontStyle="italic", color="#000000").encode(
    x=xq("tc"), y=yq("pc"), text="s:N"))
layers.append(alt.Chart(box_df.iloc[2:]).mark_text(align="center", baseline="middle", font=FONT, fontSize=84,
                                                   fontStyle="italic", fontWeight="bold", color="#000000", dy=2).encode(
    x=xq("tc"), y=yq("pc"), text="s:N"))

# price-axis tags
tags = [
    (TARGET, GREEN, "M0,-19L126,-19L126,19L0,19Z", "#ffffff", 0),
    (LAST, GREEN, "M0,-20L126,-20L126,49L0,49Z", "#ffffff", 0),
    (ENTRY, GRAY, "M0,31.5L126,31.5L126,68L0,68Z", "#ffffff", 50),
    (BOS_PRICE, "#000000", "M0,-0.5L126,-0.5L126,36L0,36Z", "#ffffff", 17.7),
    (STOP, RED, "M0,-14.3L126,-14.3L126,23L0,23Z", "#ffffff", 4.3),
]
tag_df = pd.DataFrame({"p": [t[0] for t in tags], "bg": [t[1] for t in tags], "shp": [t[2] for t in tags]})
layers.append(alt.Chart(tag_df).mark_point(size=4, filled=True, opacity=1, strokeWidth=0).encode(
    x=alt.value(3288), y=yq("p"), shape=alt.Shape("shp:N", scale=None), color=alt.Color("bg:N", scale=None)))
for price, bg, shp, tc, off in tags:
    layers.append(alt.Chart(pd.DataFrame({"p": [price], "s": [f"{price:.5f}"]})).mark_text(
        align="left", baseline="middle", font=FONT, fontSize=26, color=tc, dy=off).encode(
        x=alt.value(3308), y=yq("p"), text="s:N"))
layers.append(alt.Chart(pd.DataFrame({"p": [LAST], "s": ["9d 12h"]})).mark_text(
    align="left", baseline="middle", font=FONT, fontSize=26, color="#cdeae4", dy=33).encode(
    x=alt.value(3308), y=yq("p"), text="s:N"))

# header, title, frame, logo
one = pd.DataFrame({"a": [0]})
layers.append(alt.Chart(one).mark_rect(fillOpacity=0, stroke="#eceff4", strokeWidth=3).encode(
    x=alt.value(0), x2=alt.value(3425), y=alt.value(0), y2=alt.value(1699)))
layers.append(alt.Chart(one).mark_text(align="left", baseline="middle", font=FONT, fontSize=27, color=INK,
                                       text="solimehr created with TradingView.com, Aug 22, 2026 12:42 UTC+3:30").encode(
    x=alt.value(0), y=alt.value(-28)))
layers.append(alt.Chart(one).mark_text(align="left", baseline="middle", font=FONT, fontSize=26.5, color=INK,
                                       text="Euro / U.S. Dollar · 1M · FXCM").encode(
    x=alt.value(19), y=alt.value(36)))
logo_path = ("M-4,9L-11,9L-11,-2L-18,-2L-18,-9L-4,-9Z M10,9L2,9L9.5,-9L17.5,-9Z "
             "M6,-5A4,4 0 1,1 -2,-5A4,4 0 1,1 6,-5Z")
layers.append(alt.Chart(one).mark_point(shape=logo_path, size=15.1, filled=True, color="#131722",
                                        opacity=1, strokeWidth=0).encode(
    x=alt.value(39), y=alt.value(1768)))
layers.append(alt.Chart(one).mark_text(align="left", baseline="middle", font=FONT, fontSize=47,
                                       fontWeight="bold", color="#131722", text="TradingView").encode(
    x=alt.value(83), y=alt.value(1769)))

chart = alt.layer(*layers).properties(
    width=W, height=H,
    padding={"left": 15, "top": 53, "right": 154, "bottom": 190},
    autosize=alt.AutoSizeParams(type="none"),
    background="#ffffff",
).configure_view(strokeWidth=0)

chart.save("out.html", embed_options={"renderer": "svg", "actions": False})
